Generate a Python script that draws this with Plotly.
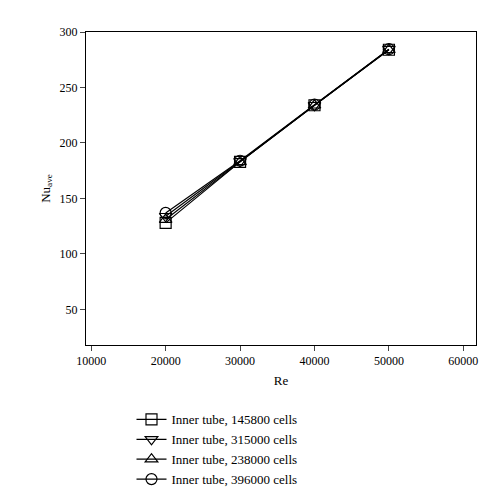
import plotly.graph_objects as go

re = [20000, 30000, 40000, 50000]
nu_145800 = [128, 183, 234, 284]
nu_238000 = [131, 183, 234, 284]
nu_315000 = [134, 183.5, 234, 284.5]
nu_396000 = [137, 184, 234.5, 284.5]
x_ticks = [10000, 20000, 30000, 40000, 50000, 60000]
y_ticks = [50, 100, 150, 200, 250, 300]

# ordered row-wise so the legend reads as two columns like the original
series = [
    ("Inner tube, 145800 cells", nu_145800, "square-open"),
    ("Inner tube, 315000 cells", nu_315000, "triangle-down-open"),
    ("Inner tube, 238000 cells", nu_238000, "triangle-up-open"),
    ("Inner tube, 396000 cells", nu_396000, "circle-open"),
]

fig = go.Figure()
for name, y, sym in series:
    fig.add_trace(go.Scatter(x=re, y=y, name=name, mode="lines+markers",
                             line=dict(color="black", width=1.2),
                             marker=dict(symbol=sym, size=11, color="black",
                                         line=dict(width=1.2, color="black"))))

ax = dict(showline=True, mirror=True, linecolor="black", linewidth=1,
          ticks="outside", ticklen=5, showgrid=False, zeroline=False,
          tickfont=dict(size=12))
fig.update_xaxes(range=[9300, 61700], tickvals=x_ticks, ticktext=[str(v) for v in x_ticks],
                 title=dict(text="Re", font=dict(size=13), standoff=8), **ax)
fig.update_yaxes(range=[18, 300], tickvals=y_ticks, ticktext=[str(v) for v in y_ticks],
                 title=dict(text="Nu<sub>ave</sub>", font=dict(size=13), standoff=6), **ax)
fig.update_layout(
    width=500, height=499, plot_bgcolor="white", paper_bgcolor="white",
    font=dict(family="Liberation Serif", color="black", size=13),
    margin=dict(l=78, r=32, t=24, b=109),
    legend=dict(orientation="h", x=0.45, xanchor="center", y=-0.19, yanchor="top",
                entrywidth=215, font=dict(size=13), tracegroupgap=0),
    showlegend=True,
)
fig.write_html("out.html")
